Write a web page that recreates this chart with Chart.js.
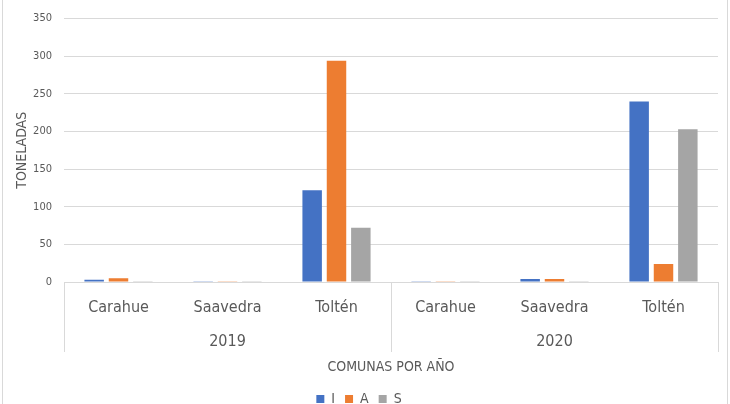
<!DOCTYPE html>
<html>
<head>
<meta charset="utf-8">
<script src="https://cdn.jsdelivr.net/npm/chart.js@4.4.1/dist/chart.umd.min.js"></script>
<style>
    html, body { margin: 0; padding: 0; background: #fff; }
    #wrap { position: relative; width: 730px; height: 404px; overflow: hidden; }
    #chart { display: block; }
</style>
</head>
<body>
<div id="wrap"><canvas id="chart" width="730" height="416"></canvas></div>
<script>
// Data
const years = ['2019', '2020'];
const comunas = ['Carahue', 'Saavedra', 'Toltén'];
const seriesNames = ['I', 'A', 'S'];
const valuesI = [3, 1, 122, 1, 4, 240];
const valuesA = [5, 1, 294, 1, 4, 24];
const valuesS = [1, 1, 72, 1, 1, 203];
const yTicks = [0, 50, 100, 150, 200, 250, 300, 350];

const colors = ['#4472C4', '#ED7D31', '#A5A5A5'];
const textColor = '#595959';
const lineColor = '#D9D9D9';
const fontFamily = "'DejaVu Sans Condensed', 'Liberation Sans Narrow', sans-serif";

// one label per comuna, repeated for each year
const labels = [];
years.forEach(() => comunas.forEach(c => labels.push(c)));

// draws the year row, the group separators and the outer frame
const groupAxisPlugin = {
    id: 'groupAxis',
    afterDraw(chart) {
        const ctx = chart.ctx;
        const x = chart.scales.x;
        const area = chart.chartArea;
        const step = (x.right - x.left) / labels.length;
        ctx.save();
        ctx.strokeStyle = lineColor;
        ctx.lineWidth = 1;
        for (let g = 0; g <= years.length; g++) {
            const px = Math.round(x.left + g * comunas.length * step) + 0.5;
            ctx.beginPath();
            ctx.moveTo(px, area.bottom);
            ctx.lineTo(px, area.bottom + 70);
            ctx.stroke();
        }
        ctx.fillStyle = textColor;
        ctx.font = '16px ' + fontFamily;
        ctx.textAlign = 'center';
        ctx.textBaseline = 'middle';
        years.forEach((yr, g) => {
            const cx = x.left + (g + 0.5) * comunas.length * step;
            ctx.fillText(yr, cx, area.bottom + 60);
        });
        // chart frame
        ctx.strokeRect(2.5, -2, 725, chart.height + 4);
        ctx.restore();
    }
};

new Chart(document.getElementById('chart'), {
    type: 'bar',
    data: {
        labels: labels,
        datasets: [
            { label: seriesNames[0], data: valuesI, backgroundColor: colors[0] },
            { label: seriesNames[1], data: valuesA, backgroundColor: colors[1] },
            { label: seriesNames[2], data: valuesS, backgroundColor: colors[2] }
        ]
    },
    options: {
        responsive: false,
        animation: false,
        datasets: {
            bar: { categoryPercentage: 0.67, barPercentage: 0.8 }
        },
        layout: { padding: { top: 2, right: 12, left: 0, bottom: 0 } },
        scales: {
            x: {
                grid: { display: false },
                border: { display: true, color: lineColor },
                ticks: {
                    color: textColor,
                    font: { family: fontFamily, size: 16 },
                    padding: 8,
                    maxRotation: 0,
                    autoSkip: false
                },
                title: {
                    display: true,
                    text: 'COMUNAS POR AÑO',
                    color: textColor,
                    font: { family: fontFamily, size: 14 },
                    padding: { top: 34, bottom: 6 }
                }
            },
            y: {
                min: 0,
                max: 350,
                afterBuildTicks: scale => {
                    scale.ticks = yTicks.map(v => ({ value: v }));
                },
                afterFit: scale => { scale.width = 64; },
                grid: { color: lineColor, drawTicks: false },
                border: { display: false },
                ticks: {
                    color: textColor,
                    font: { family: fontFamily, size: 11 },
                    padding: 12
                },
                title: {
                    display: true,
                    text: 'TONELADAS',
                    color: textColor,
                    font: { family: fontFamily, size: 14 },
                    padding: { top: 14, bottom: 2 }
                }
            }
        },
        plugins: {
            legend: {
                position: 'bottom',
                labels: {
                    color: textColor,
                    font: { family: fontFamily, size: 14 },
                    boxWidth: 8,
                    boxHeight: 8,
                    padding: 10
                }
            },
            tooltip: { enabled: false }
        }
    },
    plugins: [groupAxisPlugin]
});
</script>
</body>
</html>
